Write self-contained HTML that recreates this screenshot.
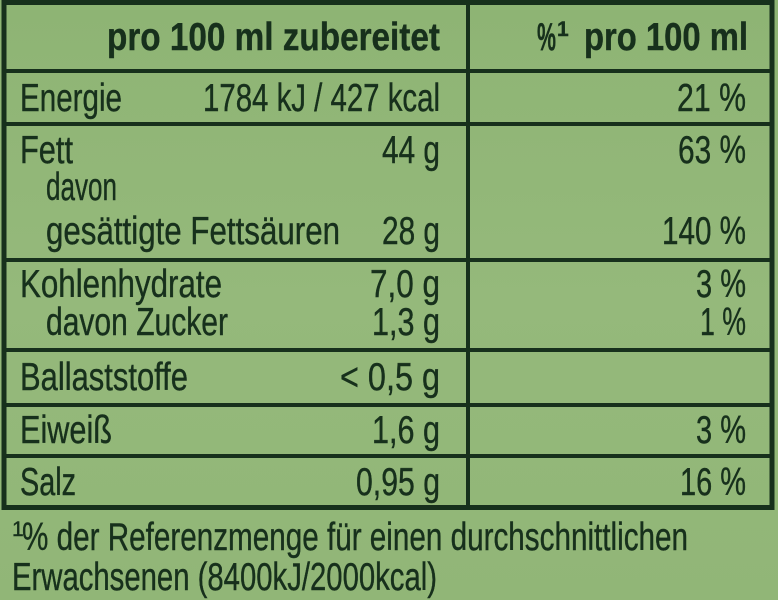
<!DOCTYPE html>
<html><head><meta charset="utf-8"><style>
html,body{margin:0;padding:0;background:#8fb476;}
svg{display:block}
text{font-family:"Liberation Sans Narrow","Liberation Sans",sans-serif;font-size:39px;fill:#17301c;stroke:#17301c;stroke-width:0.4}
.b{font-weight:bold}
.s{font-size:21px}
</style></head><body>
<svg width="778" height="600" viewBox="0 0 778 600">
<defs><linearGradient id="g" x1="0" y1="0" x2="0" y2="1">
<stop offset="0" stop-color="#8eb474"/><stop offset="0.5" stop-color="#95b97b"/><stop offset="1" stop-color="#91b677"/></linearGradient></defs>
<rect width="778" height="600" fill="url(#g)"/>
<g stroke="#17301c" fill="none">
<rect x="4" y="2.5" width="768" height="505" stroke-width="5"/>
<line x1="468" y1="2" x2="468" y2="508" stroke-width="4"/>
<g stroke-width="4">
<line x1="4" y1="71" x2="772" y2="71"/>
<line x1="4" y1="124" x2="772" y2="124"/>
<line x1="4" y1="260" x2="772" y2="260"/>
<line x1="4" y1="350" x2="772" y2="350"/>
<line x1="4" y1="405" x2="772" y2="405"/>
<line x1="4" y1="456" x2="772" y2="456"/>
</g></g>
<text class="b" x="107" y="50" textLength="333" lengthAdjust="spacingAndGlyphs">pro 100 ml zubereitet</text>
<text class="b" x="537" y="50" textLength="19" lengthAdjust="spacingAndGlyphs">%</text>
<text class="b s" x="557" y="36">1</text>
<text class="b" x="584" y="50" textLength="164" lengthAdjust="spacingAndGlyphs">pro 100 ml</text>
<text x="20" y="111" textLength="102" lengthAdjust="spacingAndGlyphs">Energie</text>
<text x="203" y="111" textLength="237" lengthAdjust="spacingAndGlyphs">1784 kJ / 427 kcal</text>
<text x="677" y="111" textLength="69" lengthAdjust="spacingAndGlyphs">21 %</text>
<text x="20" y="163" textLength="53" lengthAdjust="spacingAndGlyphs">Fett</text>
<text x="382" y="163" textLength="58" lengthAdjust="spacingAndGlyphs">44 g</text>
<text x="678" y="163" textLength="68" lengthAdjust="spacingAndGlyphs">63 %</text>
<text x="46" y="200" textLength="71" lengthAdjust="spacingAndGlyphs">davon</text>
<text x="46" y="244" textLength="294" lengthAdjust="spacingAndGlyphs">gesättigte Fettsäuren</text>
<text x="382" y="244" textLength="58" lengthAdjust="spacingAndGlyphs">28 g</text>
<text x="662" y="244" textLength="84" lengthAdjust="spacingAndGlyphs">140 %</text>
<text x="20" y="297" textLength="202" lengthAdjust="spacingAndGlyphs">Kohlenhydrate</text>
<text x="370" y="297" textLength="70" lengthAdjust="spacingAndGlyphs">7,0 g</text>
<text x="696" y="297" textLength="50" lengthAdjust="spacingAndGlyphs">3 %</text>
<text x="46" y="335" textLength="182" lengthAdjust="spacingAndGlyphs">davon Zucker</text>
<text x="372" y="335" textLength="68" lengthAdjust="spacingAndGlyphs">1,3 g</text>
<text x="700" y="335" textLength="46" lengthAdjust="spacingAndGlyphs">1 %</text>
<text x="20" y="390" textLength="168" lengthAdjust="spacingAndGlyphs">Ballaststoffe</text>
<text x="340" y="390" textLength="100" lengthAdjust="spacingAndGlyphs">&lt; 0,5 g</text>
<text x="20" y="443" textLength="92" lengthAdjust="spacingAndGlyphs">Eiweiß</text>
<text x="372" y="443" textLength="68" lengthAdjust="spacingAndGlyphs">1,6 g</text>
<text x="696" y="443" textLength="50" lengthAdjust="spacingAndGlyphs">3 %</text>
<text x="20" y="495" textLength="56" lengthAdjust="spacingAndGlyphs">Salz</text>
<text x="356" y="495" textLength="84" lengthAdjust="spacingAndGlyphs">0,95 g</text>
<text x="680" y="495" textLength="66" lengthAdjust="spacingAndGlyphs">16 %</text>
<text class="s" x="12" y="536">1</text>
<text x="22" y="550" textLength="666" lengthAdjust="spacingAndGlyphs">% der Referenzmenge für einen durchschnittlichen</text>
<text x="12" y="590" textLength="425" lengthAdjust="spacingAndGlyphs">Erwachsenen (8400kJ/2000kcal)</text>
</svg>
</body></html>
